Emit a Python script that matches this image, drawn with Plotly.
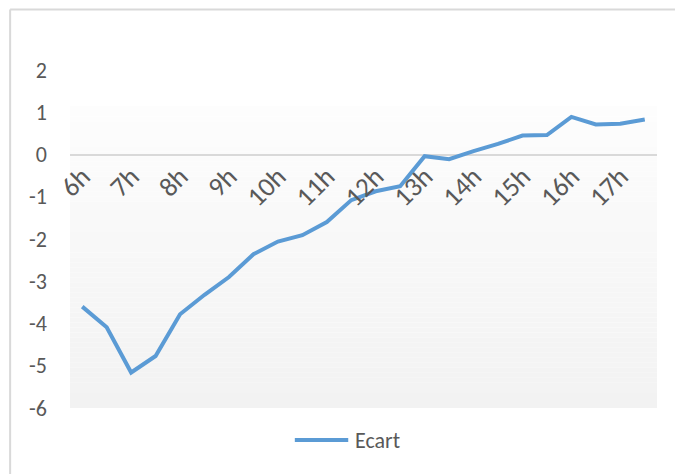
import plotly.graph_objects as go

# Half-hourly categories from 6h to 17h30
times = ["6h", "6h30", "7h", "7h30", "8h", "8h30", "9h", "9h30", "10h", "10h30",
         "11h", "11h30", "12h", "12h30", "13h", "13h30", "14h", "14h30", "15h", "15h30",
         "16h", "16h30", "17h", "17h30"]
ecart = [-3.60, -4.09, -5.16, -4.77, -3.78, -3.32, -2.90, -2.36, -2.06, -1.91,
         -1.60, -1.08, -0.87, -0.75, -0.04, -0.11, 0.08, 0.25, 0.45, 0.46,
         0.89, 0.71, 0.73, 0.83]
hour_ticks = ["6h", "7h", "8h", "9h", "10h", "11h", "12h", "13h", "14h", "15h", "16h", "17h"]
y_ticks = [2, 1, 0, -1, -2, -3, -4, -5, -6]
y_tick_text = [str(v) for v in y_ticks]  # plain hyphen for negatives

FONT = "Carlito, Lato, sans-serif"
GREY_TEXT = "#595959"
LINE_BLUE = "#5b9bd5"
Y_MIN, Y_MAX = -6, 2

fig = go.Figure()
fig.add_trace(go.Scatter(
    x=times, y=ecart, mode="lines", name="Ecart",
    line=dict(color=LINE_BLUE, width=4), showlegend=False,
))

# Soft vertical gradient behind the plot area (light at top, grey at bottom)
shapes = []
g_top, g_bot, n = 1.14, Y_MIN, 60
for i in range(n):
    y0 = g_top - (g_top - g_bot) * i / n
    y1 = g_top - (g_top - g_bot) * (i + 1) / n
    t = (i + 0.5) / n
    c = round(253 - (253 - 242) * t)
    shapes.append(dict(type="rect", xref="x", yref="y", x0=-0.5, x1=23.5, y0=y1, y1=y0,
                       fillcolor=f"rgb({c},{c},{c})", line=dict(width=0), layer="below"))

# Chart frame (top and left edges)
shapes.append(dict(type="line", xref="paper", yref="paper", x0=-0.102, x1=1.1, y0=1.179, y1=1.179,
                   line=dict(color="#d9d9d9", width=2)))
shapes.append(dict(type="line", xref="paper", yref="paper", x0=-0.102, x1=-0.102, y0=1.179, y1=-0.25,
                   line=dict(color="#d9d9d9", width=2)))

# Legend entry
shapes.append(dict(type="line", xref="paper", yref="paper", x0=0.383, x1=0.474, y0=-0.0947, y1=-0.0947,
                   line=dict(color=LINE_BLUE, width=4)))

fig.update_layout(
    width=675, height=474,
    margin=dict(l=70, r=18, t=70, b=66),
    paper_bgcolor="white", plot_bgcolor="white",
    font=dict(family=FONT, size=22, color=GREY_TEXT),
    shapes=shapes,
    annotations=[dict(text="Ecart", xref="paper", yref="paper", x=0.482, y=-0.0947,
                      xanchor="left", yanchor="middle", showarrow=False,
                      font=dict(family=FONT, size=22, color=GREY_TEXT))],
    xaxis=dict(
        type="category", range=[-0.5, 23.5],
        tickmode="array", tickvals=hour_ticks, ticktext=hour_ticks,
        tickangle=-45, showgrid=False, showline=False, zeroline=False, ticks="",
        anchor="free", position=(0 - Y_MIN) / (Y_MAX - Y_MIN),
        ticklabelstandoff=0, tickfont=dict(family=FONT, size=27, color=GREY_TEXT),
    ),
    yaxis=dict(
        range=[Y_MIN, Y_MAX], tickmode="array", tickvals=y_ticks, ticktext=y_tick_text,
        showgrid=False, zeroline=True, zerolinecolor="#d9d9d9", zerolinewidth=2,
        showline=False, ticks="", ticklabelstandoff=22,
    ),
)

fig.write_html("out.html")
